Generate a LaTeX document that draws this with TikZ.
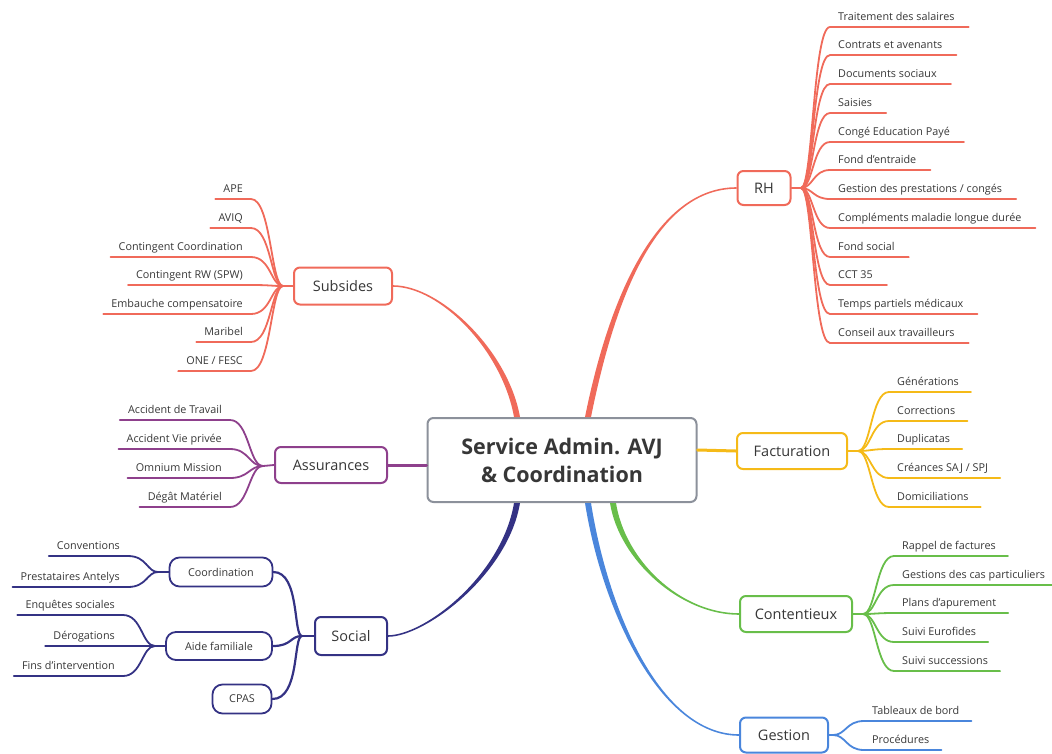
\documentclass[tikz,border=0pt]{standalone}
\usepackage{fontspec}
\setmainfont{Open Sans}

\definecolor{rhred}{RGB}{240,106,90}
\definecolor{assurpurple}{RGB}{142,64,140}
\definecolor{socialnavy}{RGB}{52,50,132}
\definecolor{factuyellow}{RGB}{245,186,24}
\definecolor{contengreen}{RGB}{104,190,74}
\definecolor{gestionblue}{RGB}{74,134,220}
\definecolor{rootgray}{RGB}{140,145,155}
\definecolor{ink}{RGB}{55,55,55}

\tikzset{
  root/.style={draw=rootgray, rounded corners=6pt, line width=2pt, fill=white, text=ink,
    align=center, minimum width=269pt, minimum height=84pt,
    font=\fontsize{21.5}{28}\selectfont\bfseries},
  topic/.style={draw, rounded corners=6pt, line width=2pt, fill=white, text=ink,
    inner sep=0pt, font=\fontsize{14.5}{17}\selectfont},
  subtopic/.style={draw, rounded corners=10pt, line width=1.8pt, fill=white, text=ink,
    inner sep=0pt, font=\fontsize{10.8}{13}\selectfont},
  leafr/.style={anchor=south west, inner xsep=8pt, inner ysep=3.5pt, text=ink,
    text height=8pt, text depth=2.5pt, font=\fontsize{10.8}{13}\selectfont},
  leafl/.style={leafr, anchor=south east},
  branch/.style={line width=3pt, line cap=round},
  twig/.style={line width=1.8pt, line cap=round}
}

% tapered main branch: colour, start, control 1, control 2, end, side
\newcommand\taperbranch[6]{%
  \fill[#1] ([xshift=-3pt]#2) .. controls ([xshift=-3pt]#3) and ([yshift={#6*0.8pt}]#4)
    .. ([yshift={#6*0.8pt}]#5) -- ([yshift={-#6*0.8pt}]#5)
    .. controls ([yshift={-#6*0.8pt}]#4) and ([xshift=3pt]#3) .. ([xshift=3pt]#2) -- cycle;}

\begin{document}
\begin{tikzpicture}[x=1pt, y=-1pt]
  \useasboundingbox (0,0) rectangle (1052,753);

  % root
  \node[root] (avj) at (562,460) {Service Admin. AVJ\\ \& Coordination};

  % main topics
  \node[topic, draw=rhred, minimum width=53pt, minimum height=34pt] (rh) at (764,188) {RH};
  \node[topic, draw=rhred, minimum width=98pt, minimum height=37pt] (subsides) at (343,286) {Subsides};
  \node[topic, draw=assurpurple, minimum width=112pt, minimum height=36pt] (assur) at (331,465) {Assurances};
  \node[topic, draw=socialnavy, minimum width=72pt, minimum height=38pt] (social) at (351,636) {Social};
  \node[topic, draw=factuyellow, minimum width=110pt, minimum height=36pt] (factu) at (792,451) {Facturation};
  \node[topic, draw=contengreen, minimum width=112pt, minimum height=36pt] (conten) at (796,614) {Contentieux};
  \node[topic, draw=gestionblue, minimum width=88pt, minimum height=35pt] (gestion) at (784,735) {Gestion};

  % root -> topics
  \coordinate (rhs) at ([xshift=26pt]avj.north);
  \coordinate (subs) at ([xshift=-45pt]avj.north);
  \coordinate (socs) at ([xshift=-45pt]avj.south);
  \coordinate (gess) at ([xshift=26pt]avj.south);
  \coordinate (cons) at ([xshift=51pt]avj.south);
  \taperbranch{rhred}{rhs}{614,288}{660,188}{rh.west}{1}
  \taperbranch{rhred}{subs}{505,350}{440,286}{subsides.east}{-1}
  \taperbranch{socialnavy}{socs}{505,575}{425,636}{social.east}{1}
  \taperbranch{gestionblue}{gess}{605,610}{660,735}{gestion.west}{-1}
  \taperbranch{contengreen}{cons}{622,560}{680,614}{conten.west}{-1}
  \draw[branch, assurpurple] (avj.west |- assur.east) -- (assur.east);
  \draw[branch, factuyellow] ([yshift=10pt]avj.east) -- (factu.west);

  % RH
  \coordinate (rhb) at (801,188);
  \draw[twig, rhred] (rh.east) -- (rhb);
  \foreach \y/\lbl [count=\i] in {27/Traitement des salaires, 55/Contrats et avenants,
      84/Documents sociaux, 113/Saisies, 142/Congé Education Payé, 170/Fond d'entraide,
      199/{Gestion des prestations / congés}, 228/Compléments maladie longue durée,
      257/Fond social, 285/CCT 35, 314/Temps partiels médicaux, 343/Conseil aux travailleurs} {
    \node[leafr] (rh\i) at (830,\y) {\lbl};
    \draw[twig, rhred] (rhb) .. controls (813,188) and (813,\y) .. (rh\i.south west) -- ([xshift=6pt]rh\i.south east);
  }

  % subsides
  \coordinate (subb) at (283,286);
  \draw[twig, rhred] (subsides.west) -- (subb);
  \foreach \y/\lbl [count=\i] in {199/APE, 228/AVIQ, 257/Contingent Coordination,
      285/Contingent RW (SPW), 314/Embauche compensatoire, 342/Maribel, 371/{ONE / FESC}} {
    \node[leafl] (sub\i) at (251,\y) {\lbl};
    \draw[twig, rhred] (subb) .. controls (271,286) and (271,\y) .. (sub\i.south east) -- (sub\i.south west);
  }

  % assurances
  \coordinate (assb) at (263,466);
  \draw[twig, assurpurple] (assur.west) -- (assb);
  \foreach \y/\lbl [count=\i] in {420/Accident de Travail, 449/Accident Vie privée,
      478/Omnium Mission, 507/Dégât Matériel} {
    \node[leafl] (ass\i) at (230,\y) {\lbl};
    \draw[twig, assurpurple] (assb) .. controls (249,466) and (249,\y) .. (ass\i.south east) -- (ass\i.south west);
  }

  % facturation
  \coordinate (facb) at (858,451);
  \draw[twig, factuyellow] (factu.east) -- (facb);
  \foreach \y/\lbl [count=\i] in {392/Générations, 421/Corrections, 449/Duplicatas,
      478/{Créances SAJ / SPJ}, 507/Domiciliations} {
    \node[leafr] (fac\i) at (889,\y) {\lbl};
    \draw[twig, factuyellow] (facb) .. controls (871,451) and (871,\y) .. (fac\i.south west) -- ([xshift=4pt]fac\i.south east);
  }

  % contentieux
  \coordinate (conb) at (863,614);
  \draw[twig, contengreen] (conten.east) -- (conb);
  \foreach \y/\lbl [count=\i] in {556/Rappel de factures, 585/Gestions des cas particuliers,
      613/Plans d'apurement, 642/Suivi Eurofides, 671/Suivi successions} {
    \node[leafr] (con\i) at (894,\y) {\lbl};
    \draw[twig, contengreen] (conb) .. controls (876,614) and (876,\y) .. (con\i.south west) -- ([xshift=4pt]con\i.south east);
  }

  % gestion
  \coordinate (gesb) at (833,735);
  \draw[twig, gestionblue] (gestion.east) -- (gesb);
  \foreach \y/\lbl [count=\i] in {721/Tableaux de bord, 750/Procédures} {
    \node[leafr] (ges\i) at (864,\y) {\lbl};
    \draw[twig, gestionblue] (gesb) .. controls (846,735) and (846,\y) .. (ges\i.south west) -- ([xshift=4pt]ges\i.south east);
  }

  % social
  \node[subtopic, draw=socialnavy, minimum width=103pt, minimum height=29pt] (coord) at (221,572) {Coordination};
  \node[subtopic, draw=socialnavy, minimum width=106pt, minimum height=28pt] (aide) at (219,646) {Aide familiale};
  \node[subtopic, draw=socialnavy, minimum width=59pt, minimum height=29pt] (cpas) at (242,699) {CPAS};
  \coordinate (socb) at (302,636);
  \draw[twig, socialnavy, line width=2.2pt] (social.west) -- (socb);
  \draw[twig, socialnavy, line width=2.2pt] (socb) .. controls (293,636) and (300,572) .. (coord.east);
  \draw[twig, socialnavy, line width=2.2pt] (socb) .. controls (290,636) and (292,646) .. (aide.east);
  \draw[twig, socialnavy, line width=2.2pt] (socb) .. controls (293,636) and (300,699) .. (cpas.east);

  \coordinate (coob) at (158,572);
  \draw[twig, socialnavy] (coord.west) -- (coob);
  \foreach \y/\lbl [count=\i] in {556/Conventions, 587/Prestataires Antelys} {
    \node[leafl] (coo\i) at (128,\y) {\lbl};
    \draw[twig, socialnavy] (coob) .. controls (147,572) and (147,\y) .. (coo\i.south east) -- (coo\i.south west);
  }

  \coordinate (aidb) at (155,646);
  \draw[twig, socialnavy] (aide.west) -- (aidb);
  \foreach \y/\lbl [count=\i] in {615/Enquêtes sociales, 646/Dérogations, 676/Fins d'intervention} {
    \node[leafl] (aid\i) at (123,\y) {\lbl};
    \draw[twig, socialnavy] (aidb) .. controls (142,646) and (142,\y) .. (aid\i.south east) -- (aid\i.south west);
  }
\end{tikzpicture}
\end{document}
